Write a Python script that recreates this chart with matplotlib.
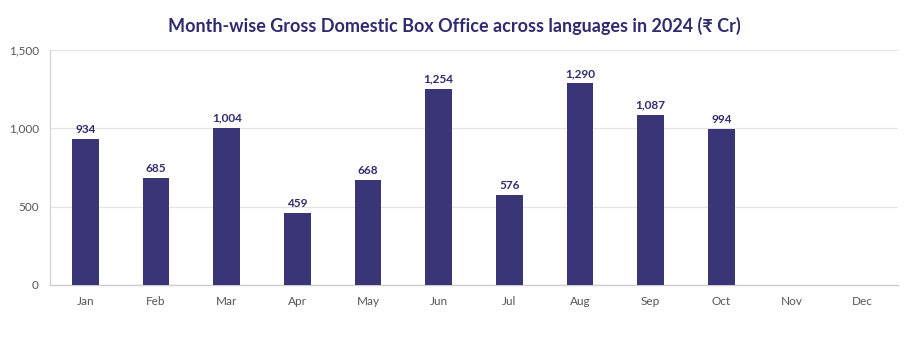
import matplotlib
matplotlib.use("Agg")
import matplotlib.pyplot as plt

months = ["Jan", "Feb", "Mar", "Apr", "May", "Jun", "Jul", "Aug", "Sep", "Oct", "Nov", "Dec"]
values = [934, 685, 1004, 459, 668, 1254, 576, 1290, 1087, 994, None, None]
yticks = [0, 500, 1000, 1500]
ytick_labels = ["0", "500", "1,000", "1,500"]

bar_color = "#3a3577"
title_color = "#2e2b6e"
fam = ["Lato", "Noto Sans", "DejaVu Sans"]

fig = plt.figure(figsize=(9.09, 3.40), dpi=100)
ax = fig.add_axes([0.055, 0.162, 0.933, 0.691])

x = list(range(len(months)))
for i, v in enumerate(values):
    if v is None:
        continue
    ax.bar(i, v, width=0.38, color=bar_color, zorder=3)
    ax.text(i, v + 25, f"{v:,}", ha="center", va="bottom", fontsize=8.5,
            fontweight="bold", color=title_color, family=fam)

ax.set_xlim(-0.5, len(months) - 0.5)
ax.set_ylim(0, 1500)
ax.set_xticks(x)
ax.set_xticklabels(months, family=fam, fontsize=8.5, color="#555555")
ax.set_yticks(yticks)
ax.set_yticklabels(ytick_labels, family=fam, fontsize=8.5, color="#555555")
ax.tick_params(axis="both", length=0, pad=8)
ax.grid(axis="y", color="#e3e3e3", linewidth=0.8, zorder=0)
for s in ["top", "right"]:
    ax.spines[s].set_visible(False)
ax.spines["left"].set_color("#d0d0d0")
ax.spines["bottom"].set_color("#cccccc")
ax.spines["left"].set_linewidth(0.8)
ax.spines["bottom"].set_linewidth(1.0)

fig.text(0.5, 0.925, "Month-wise Gross Domestic Box Office across languages in 2024 (₹ Cr)",
         ha="center", va="center", fontsize=13, fontweight="bold", color=title_color, family=fam)

fig.savefig("out.png", dpi=100, facecolor="white")
